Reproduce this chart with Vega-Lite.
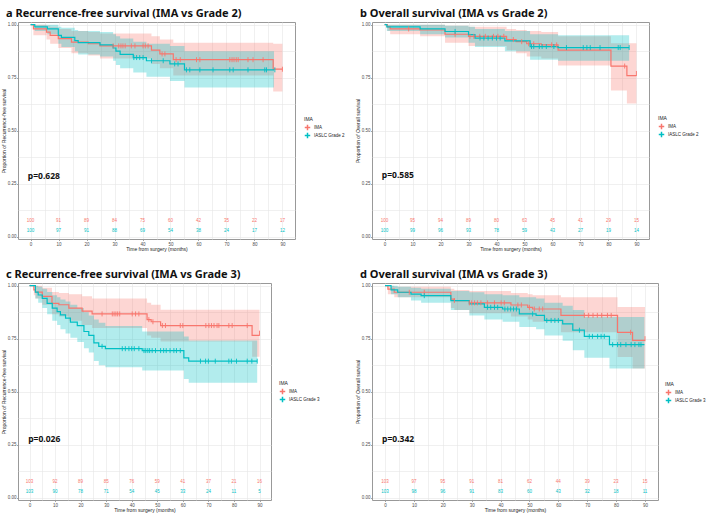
{
"$schema": "https://vega.github.io/schema/vega-lite/v6.json",
"padding": {"left": 0, "top": 7, "right": 0, "bottom": 0},
"background": "white",
"config": {
 "font": "Liberation Sans",
 "view": {"stroke": "#999999", "strokeWidth": 1},
 "axis": {"labelFontSize": 4.5, "labelColor": "#4d4d4d", "titleFontSize": 5, "titleFontWeight": "normal", "titleColor": "#222222", "gridColor": "#E6E6E6", "gridWidth": 0.6, "domain": false, "tickColor": "#666666", "tickSize": 1.5, "tickWidth": 0.6, "labelPadding": 0.5, "titlePadding": 1, "labelFont": "Liberation Sans", "titleFont": "Liberation Sans", "labelOverlap": false, "labelFlush": false},
 "legend": {"titleFontSize": 5, "titleFontWeight": "normal", "titleFont": "Liberation Sans", "labelFont": "Liberation Sans", "labelFontSize": 4.5, "labelColor": "#222222", "titleColor": "#222222", "symbolType": "M-1,0H1M0,-1V1", "symbolSize": 30, "symbolStrokeWidth": 1.5, "symbolFillColor": "transparent", "rowPadding": 0, "titlePadding": 1.5, "labelOffset": 3, "clipHeight": 8},
 "title": {"fontSize": 11, "font": "Noto Sans", "fontWeight": "bold", "anchor": "start", "frame": "group", "dx": -12, "offset": 3, "color": "#111111"}
},
"datasets": {
 "curve": [
  {"p":"a","g":"IMA","t":0,"s":1,"lo":1,"hi":1},
  {"p":"a","g":"IMA","t":1,"s":0.98,"lo":0.95,"hi":1},
  {"p":"a","g":"IMA","t":5.7,"s":0.965,"lo":0.93,"hi":0.995},
  {"p":"a","g":"IMA","t":7,"s":0.95,"lo":0.91,"hi":0.99},
  {"p":"a","g":"IMA","t":9.9,"s":0.934,"lo":0.89,"hi":0.98},
  {"p":"a","g":"IMA","t":14.6,"s":0.918,"lo":0.865,"hi":0.97},
  {"p":"a","g":"IMA","t":20.6,"s":0.91,"lo":0.855,"hi":0.965},
  {"p":"a","g":"IMA","t":24.8,"s":0.9,"lo":0.84,"hi":0.958},
  {"p":"a","g":"IMA","t":43.2,"s":0.88,"lo":0.815,"hi":0.945},
  {"p":"a","g":"IMA","t":46.2,"s":0.862,"lo":0.795,"hi":0.93},
  {"p":"a","g":"IMA","t":51,"s":0.835,"lo":0.76,"hi":0.915},
  {"p":"a","g":"IMA","t":86.7,"s":0.79,"lo":0.685,"hi":0.91},
  {"p":"a","g":"IMA","t":90,"s":0.79,"lo":0.685,"hi":0.91},
  {"p":"a","g":"IASLC Grade 2","t":0,"s":1,"lo":1,"hi":1},
  {"p":"a","g":"IASLC Grade 2","t":1.5,"s":0.99,"lo":0.97,"hi":1},
  {"p":"a","g":"IASLC Grade 2","t":6,"s":0.98,"lo":0.955,"hi":1},
  {"p":"a","g":"IASLC Grade 2","t":9.9,"s":0.95,"lo":0.91,"hi":0.99},
  {"p":"a","g":"IASLC Grade 2","t":11,"s":0.94,"lo":0.895,"hi":0.985},
  {"p":"a","g":"IASLC Grade 2","t":15.8,"s":0.925,"lo":0.875,"hi":0.975},
  {"p":"a","g":"IASLC Grade 2","t":17,"s":0.915,"lo":0.86,"hi":0.97},
  {"p":"a","g":"IASLC Grade 2","t":24.8,"s":0.905,"lo":0.85,"hi":0.965},
  {"p":"a","g":"IASLC Grade 2","t":29.5,"s":0.89,"lo":0.83,"hi":0.955},
  {"p":"a","g":"IASLC Grade 2","t":30.5,"s":0.875,"lo":0.81,"hi":0.945},
  {"p":"a","g":"IASLC Grade 2","t":32,"s":0.86,"lo":0.795,"hi":0.935},
  {"p":"a","g":"IASLC Grade 2","t":36.7,"s":0.845,"lo":0.775,"hi":0.92},
  {"p":"a","g":"IASLC Grade 2","t":41.4,"s":0.83,"lo":0.755,"hi":0.91},
  {"p":"a","g":"IASLC Grade 2","t":49.8,"s":0.815,"lo":0.735,"hi":0.9},
  {"p":"a","g":"IASLC Grade 2","t":55,"s":0.787,"lo":0.704,"hi":0.875},
  {"p":"a","g":"IASLC Grade 2","t":87,"s":0.787,"lo":0.704,"hi":0.875},

  {"p":"b","g":"IMA","t":0,"s":1,"lo":1,"hi":1},
  {"p":"b","g":"IMA","t":1,"s":0.99,"lo":0.97,"hi":1},
  {"p":"b","g":"IMA","t":2,"s":0.98,"lo":0.955,"hi":1},
  {"p":"b","g":"IMA","t":12.7,"s":0.975,"lo":0.945,"hi":1},
  {"p":"b","g":"IMA","t":21.6,"s":0.955,"lo":0.915,"hi":0.995},
  {"p":"b","g":"IMA","t":30,"s":0.945,"lo":0.9,"hi":0.99},
  {"p":"b","g":"IMA","t":43.6,"s":0.93,"lo":0.88,"hi":0.98},
  {"p":"b","g":"IMA","t":47,"s":0.92,"lo":0.865,"hi":0.975},
  {"p":"b","g":"IMA","t":50.8,"s":0.91,"lo":0.85,"hi":0.97},
  {"p":"b","g":"IMA","t":56,"s":0.905,"lo":0.84,"hi":0.965},
  {"p":"b","g":"IMA","t":62,"s":0.88,"lo":0.807,"hi":0.945},
  {"p":"b","g":"IMA","t":80.9,"s":0.805,"lo":0.69,"hi":0.912},
  {"p":"b","g":"IMA","t":86.6,"s":0.76,"lo":0.628,"hi":0.912},
  {"p":"b","g":"IMA","t":90,"s":0.76,"lo":0.628,"hi":0.912},
  {"p":"b","g":"IASLC Grade 2","t":0,"s":1,"lo":1,"hi":1},
  {"p":"b","g":"IASLC Grade 2","t":0.8,"s":0.99,"lo":0.97,"hi":1},
  {"p":"b","g":"IASLC Grade 2","t":12.7,"s":0.98,"lo":0.955,"hi":1},
  {"p":"b","g":"IASLC Grade 2","t":21.6,"s":0.968,"lo":0.94,"hi":0.995},
  {"p":"b","g":"IASLC Grade 2","t":30,"s":0.953,"lo":0.915,"hi":0.99},
  {"p":"b","g":"IASLC Grade 2","t":32.3,"s":0.937,"lo":0.895,"hi":0.98},
  {"p":"b","g":"IASLC Grade 2","t":43,"s":0.924,"lo":0.875,"hi":0.97},
  {"p":"b","g":"IASLC Grade 2","t":52,"s":0.897,"lo":0.835,"hi":0.955},
  {"p":"b","g":"IASLC Grade 2","t":62,"s":0.892,"lo":0.83,"hi":0.95},
  {"p":"b","g":"IASLC Grade 2","t":87.4,"s":0.892,"lo":0.83,"hi":0.95},

  {"p":"c","g":"IMA","t":0,"s":1,"lo":1,"hi":1},
  {"p":"c","g":"IMA","t":1.7,"s":0.98,"lo":0.955,"hi":1},
  {"p":"c","g":"IMA","t":2.3,"s":0.97,"lo":0.94,"hi":1},
  {"p":"c","g":"IMA","t":5,"s":0.95,"lo":0.91,"hi":0.99},
  {"p":"c","g":"IMA","t":8.8,"s":0.917,"lo":0.865,"hi":0.97},
  {"p":"c","g":"IMA","t":11.5,"s":0.91,"lo":0.855,"hi":0.965},
  {"p":"c","g":"IMA","t":15.4,"s":0.894,"lo":0.835,"hi":0.96},
  {"p":"c","g":"IMA","t":20.6,"s":0.88,"lo":0.815,"hi":0.95},
  {"p":"c","g":"IMA","t":24.5,"s":0.867,"lo":0.8,"hi":0.94},
  {"p":"c","g":"IMA","t":46,"s":0.84,"lo":0.765,"hi":0.92},
  {"p":"c","g":"IMA","t":47.6,"s":0.83,"lo":0.755,"hi":0.91},
  {"p":"c","g":"IMA","t":51.3,"s":0.812,"lo":0.737,"hi":0.886},
  {"p":"c","g":"IMA","t":87.1,"s":0.766,"lo":0.665,"hi":0.886},
  {"p":"c","g":"IMA","t":90,"s":0.766,"lo":0.665,"hi":0.886},
  {"p":"c","g":"IASLC Grade 3","t":0,"s":1,"lo":1,"hi":1},
  {"p":"c","g":"IASLC Grade 3","t":2.3,"s":0.97,"lo":0.94,"hi":1},
  {"p":"c","g":"IASLC Grade 3","t":3.4,"s":0.956,"lo":0.92,"hi":0.995},
  {"p":"c","g":"IASLC Grade 3","t":5,"s":0.94,"lo":0.895,"hi":0.985},
  {"p":"c","g":"IASLC Grade 3","t":6.9,"s":0.917,"lo":0.865,"hi":0.97},
  {"p":"c","g":"IASLC Grade 3","t":8.9,"s":0.894,"lo":0.835,"hi":0.955},
  {"p":"c","g":"IASLC Grade 3","t":10.8,"s":0.878,"lo":0.815,"hi":0.945},
  {"p":"c","g":"IASLC Grade 3","t":12.1,"s":0.862,"lo":0.795,"hi":0.935},
  {"p":"c","g":"IASLC Grade 3","t":14.1,"s":0.847,"lo":0.775,"hi":0.925},
  {"p":"c","g":"IASLC Grade 3","t":16,"s":0.828,"lo":0.755,"hi":0.91},
  {"p":"c","g":"IASLC Grade 3","t":18.7,"s":0.812,"lo":0.735,"hi":0.895},
  {"p":"c","g":"IASLC Grade 3","t":21.3,"s":0.784,"lo":0.705,"hi":0.875},
  {"p":"c","g":"IASLC Grade 3","t":23.2,"s":0.766,"lo":0.685,"hi":0.86},
  {"p":"c","g":"IASLC Grade 3","t":25.2,"s":0.73,"lo":0.645,"hi":0.84},
  {"p":"c","g":"IASLC Grade 3","t":27.1,"s":0.714,"lo":0.625,"hi":0.825},
  {"p":"c","g":"IASLC Grade 3","t":29.7,"s":0.703,"lo":0.615,"hi":0.81},
  {"p":"c","g":"IASLC Grade 3","t":44.1,"s":0.694,"lo":0.6,"hi":0.784},
  {"p":"c","g":"IASLC Grade 3","t":60.4,"s":0.66,"lo":0.56,"hi":0.76},
  {"p":"c","g":"IASLC Grade 3","t":62.3,"s":0.644,"lo":0.542,"hi":0.742},
  {"p":"c","g":"IASLC Grade 3","t":89.1,"s":0.644,"lo":0.542,"hi":0.742},

  {"p":"d","g":"IMA","t":0,"s":1,"lo":1,"hi":1},
  {"p":"d","g":"IMA","t":1,"s":0.984,"lo":0.96,"hi":1},
  {"p":"d","g":"IMA","t":3.2,"s":0.969,"lo":0.945,"hi":0.995},
  {"p":"d","g":"IMA","t":22.8,"s":0.937,"lo":0.895,"hi":0.985},
  {"p":"d","g":"IMA","t":24,"s":0.93,"lo":0.885,"hi":0.98},
  {"p":"d","g":"IMA","t":29.2,"s":0.919,"lo":0.87,"hi":0.975},
  {"p":"d","g":"IMA","t":43.6,"s":0.909,"lo":0.855,"hi":0.965},
  {"p":"d","g":"IMA","t":49.4,"s":0.898,"lo":0.84,"hi":0.96},
  {"p":"d","g":"IMA","t":51.1,"s":0.89,"lo":0.83,"hi":0.955},
  {"p":"d","g":"IMA","t":60.9,"s":0.86,"lo":0.78,"hi":0.945},
  {"p":"d","g":"IMA","t":80.5,"s":0.78,"lo":0.664,"hi":0.9},
  {"p":"d","g":"IMA","t":85.7,"s":0.742,"lo":0.61,"hi":0.9},
  {"p":"d","g":"IMA","t":90,"s":0.742,"lo":0.61,"hi":0.9},
  {"p":"d","g":"IASLC Grade 3","t":0,"s":1,"lo":1,"hi":1},
  {"p":"d","g":"IASLC Grade 3","t":2.1,"s":0.98,"lo":0.96,"hi":1},
  {"p":"d","g":"IASLC Grade 3","t":4.4,"s":0.969,"lo":0.945,"hi":0.995},
  {"p":"d","g":"IASLC Grade 3","t":9,"s":0.96,"lo":0.93,"hi":0.99},
  {"p":"d","g":"IASLC Grade 3","t":12.5,"s":0.953,"lo":0.92,"hi":0.985},
  {"p":"d","g":"IASLC Grade 3","t":22.8,"s":0.93,"lo":0.885,"hi":0.975},
  {"p":"d","g":"IASLC Grade 3","t":29.2,"s":0.914,"lo":0.86,"hi":0.969},
  {"p":"d","g":"IASLC Grade 3","t":34.4,"s":0.898,"lo":0.84,"hi":0.96},
  {"p":"d","g":"IASLC Grade 3","t":40.7,"s":0.89,"lo":0.83,"hi":0.955},
  {"p":"d","g":"IASLC Grade 3","t":46.5,"s":0.867,"lo":0.805,"hi":0.945},
  {"p":"d","g":"IASLC Grade 3","t":52.3,"s":0.86,"lo":0.795,"hi":0.94},
  {"p":"d","g":"IASLC Grade 3","t":55.2,"s":0.836,"lo":0.765,"hi":0.92},
  {"p":"d","g":"IASLC Grade 3","t":61.5,"s":0.82,"lo":0.74,"hi":0.905},
  {"p":"d","g":"IASLC Grade 3","t":65,"s":0.79,"lo":0.695,"hi":0.885},
  {"p":"d","g":"IASLC Grade 3","t":69,"s":0.761,"lo":0.66,"hi":0.852},
  {"p":"d","g":"IASLC Grade 3","t":77.7,"s":0.722,"lo":0.61,"hi":0.852},
  {"p":"d","g":"IASLC Grade 3","t":89.8,"s":0.722,"lo":0.61,"hi":0.852}
 ],
 "cens": [
  {"p":"a","g":"IMA","t":29.5,"s":0.9},{"p":"a","g":"IMA","t":31.5,"s":0.9},{"p":"a","g":"IMA","t":32.3,"s":0.9},{"p":"a","g":"IMA","t":33,"s":0.9},{"p":"a","g":"IMA","t":33.8,"s":0.9},{"p":"a","g":"IMA","t":36,"s":0.9},{"p":"a","g":"IMA","t":37.3,"s":0.9},{"p":"a","g":"IMA","t":40.2,"s":0.9},{"p":"a","g":"IMA","t":41,"s":0.9},{"p":"a","g":"IMA","t":42,"s":0.9},{"p":"a","g":"IMA","t":47,"s":0.862},{"p":"a","g":"IMA","t":48,"s":0.862},{"p":"a","g":"IMA","t":52,"s":0.835},{"p":"a","g":"IMA","t":53.5,"s":0.835},{"p":"a","g":"IMA","t":59.3,"s":0.835},{"p":"a","g":"IMA","t":60.5,"s":0.835},{"p":"a","g":"IMA","t":71.2,"s":0.835},{"p":"a","g":"IMA","t":72,"s":0.835},{"p":"a","g":"IMA","t":72.7,"s":0.835},{"p":"a","g":"IMA","t":73.5,"s":0.835},{"p":"a","g":"IMA","t":74.2,"s":0.835},{"p":"a","g":"IMA","t":77.7,"s":0.835},{"p":"a","g":"IMA","t":79.5,"s":0.835},{"p":"a","g":"IMA","t":83.1,"s":0.835},{"p":"a","g":"IMA","t":90,"s":0.79},
  {"p":"a","g":"IASLC Grade 2","t":36.9,"s":0.845},{"p":"a","g":"IASLC Grade 2","t":37.9,"s":0.845},{"p":"a","g":"IASLC Grade 2","t":39,"s":0.845},{"p":"a","g":"IASLC Grade 2","t":40.2,"s":0.845},{"p":"a","g":"IASLC Grade 2","t":43.2,"s":0.83},{"p":"a","g":"IASLC Grade 2","t":47.4,"s":0.83},{"p":"a","g":"IASLC Grade 2","t":51.5,"s":0.815},{"p":"a","g":"IASLC Grade 2","t":52.7,"s":0.815},{"p":"a","g":"IASLC Grade 2","t":55.7,"s":0.787},{"p":"a","g":"IASLC Grade 2","t":56.9,"s":0.787},{"p":"a","g":"IASLC Grade 2","t":60.5,"s":0.787},{"p":"a","g":"IASLC Grade 2","t":65.2,"s":0.787},{"p":"a","g":"IASLC Grade 2","t":71.2,"s":0.787},{"p":"a","g":"IASLC Grade 2","t":72.4,"s":0.787},{"p":"a","g":"IASLC Grade 2","t":77.7,"s":0.787},{"p":"a","g":"IASLC Grade 2","t":83.7,"s":0.787},{"p":"a","g":"IASLC Grade 2","t":84.3,"s":0.787},{"p":"a","g":"IASLC Grade 2","t":87.3,"s":0.787},

  {"p":"b","g":"IMA","t":8.6,"s":0.98},{"p":"b","g":"IMA","t":25.2,"s":0.955},{"p":"b","g":"IMA","t":30.5,"s":0.945},{"p":"b","g":"IMA","t":31.9,"s":0.945},{"p":"b","g":"IMA","t":34,"s":0.945},{"p":"b","g":"IMA","t":36,"s":0.945},{"p":"b","g":"IMA","t":38.9,"s":0.945},{"p":"b","g":"IMA","t":40.5,"s":0.945},{"p":"b","g":"IMA","t":42.6,"s":0.945},{"p":"b","g":"IMA","t":46,"s":0.93},{"p":"b","g":"IMA","t":49,"s":0.92},{"p":"b","g":"IMA","t":51.5,"s":0.91},{"p":"b","g":"IMA","t":53.3,"s":0.91},{"p":"b","g":"IMA","t":59.7,"s":0.905},{"p":"b","g":"IMA","t":61.5,"s":0.905},{"p":"b","g":"IMA","t":85.8,"s":0.805},{"p":"b","g":"IMA","t":90,"s":0.77},
  {"p":"b","g":"IASLC Grade 2","t":25.2,"s":0.968},{"p":"b","g":"IASLC Grade 2","t":34.1,"s":0.937},{"p":"b","g":"IASLC Grade 2","t":35.5,"s":0.937},{"p":"b","g":"IASLC Grade 2","t":37,"s":0.937},{"p":"b","g":"IASLC Grade 2","t":38.5,"s":0.937},{"p":"b","g":"IASLC Grade 2","t":40,"s":0.937},{"p":"b","g":"IASLC Grade 2","t":41.3,"s":0.937},{"p":"b","g":"IASLC Grade 2","t":52.5,"s":0.897},{"p":"b","g":"IASLC Grade 2","t":53.3,"s":0.897},{"p":"b","g":"IASLC Grade 2","t":55.3,"s":0.897},{"p":"b","g":"IASLC Grade 2","t":56.3,"s":0.897},{"p":"b","g":"IASLC Grade 2","t":57.8,"s":0.897},{"p":"b","g":"IASLC Grade 2","t":60.5,"s":0.897},{"p":"b","g":"IASLC Grade 2","t":65,"s":0.892},{"p":"b","g":"IASLC Grade 2","t":71,"s":0.892},{"p":"b","g":"IASLC Grade 2","t":72.3,"s":0.892},{"p":"b","g":"IASLC Grade 2","t":73.5,"s":0.892},{"p":"b","g":"IASLC Grade 2","t":77,"s":0.892},{"p":"b","g":"IASLC Grade 2","t":83.5,"s":0.892},{"p":"b","g":"IASLC Grade 2","t":84.2,"s":0.892},{"p":"b","g":"IASLC Grade 2","t":87.4,"s":0.892},

  {"p":"c","g":"IMA","t":28.4,"s":0.867},{"p":"c","g":"IMA","t":32.4,"s":0.867},{"p":"c","g":"IMA","t":33.1,"s":0.867},{"p":"c","g":"IMA","t":33.8,"s":0.867},{"p":"c","g":"IMA","t":34.5,"s":0.867},{"p":"c","g":"IMA","t":35.3,"s":0.867},{"p":"c","g":"IMA","t":40.2,"s":0.867},{"p":"c","g":"IMA","t":41.5,"s":0.867},{"p":"c","g":"IMA","t":42.8,"s":0.867},{"p":"c","g":"IMA","t":46.7,"s":0.84},{"p":"c","g":"IMA","t":48.3,"s":0.83},{"p":"c","g":"IMA","t":52,"s":0.812},{"p":"c","g":"IMA","t":53.2,"s":0.812},{"p":"c","g":"IMA","t":59,"s":0.812},{"p":"c","g":"IMA","t":60,"s":0.812},{"p":"c","g":"IMA","t":69,"s":0.812},{"p":"c","g":"IMA","t":70.2,"s":0.812},{"p":"c","g":"IMA","t":71.2,"s":0.812},{"p":"c","g":"IMA","t":72.2,"s":0.812},{"p":"c","g":"IMA","t":73.4,"s":0.812},{"p":"c","g":"IMA","t":74.1,"s":0.812},{"p":"c","g":"IMA","t":78,"s":0.812},{"p":"c","g":"IMA","t":79.3,"s":0.812},{"p":"c","g":"IMA","t":85.2,"s":0.812},{"p":"c","g":"IMA","t":90,"s":0.776},
  {"p":"c","g":"IASLC Grade 3","t":28.4,"s":0.714},{"p":"c","g":"IASLC Grade 3","t":36.3,"s":0.703},{"p":"c","g":"IASLC Grade 3","t":37.5,"s":0.703},{"p":"c","g":"IASLC Grade 3","t":38.9,"s":0.703},{"p":"c","g":"IASLC Grade 3","t":40,"s":0.703},{"p":"c","g":"IASLC Grade 3","t":41,"s":0.703},{"p":"c","g":"IASLC Grade 3","t":42.8,"s":0.703},{"p":"c","g":"IASLC Grade 3","t":44.8,"s":0.694},{"p":"c","g":"IASLC Grade 3","t":45.5,"s":0.694},{"p":"c","g":"IASLC Grade 3","t":46.3,"s":0.694},{"p":"c","g":"IASLC Grade 3","t":47,"s":0.694},{"p":"c","g":"IASLC Grade 3","t":48,"s":0.694},{"p":"c","g":"IASLC Grade 3","t":49.3,"s":0.694},{"p":"c","g":"IASLC Grade 3","t":51.3,"s":0.694},{"p":"c","g":"IASLC Grade 3","t":52.5,"s":0.694},{"p":"c","g":"IASLC Grade 3","t":53.5,"s":0.694},{"p":"c","g":"IASLC Grade 3","t":55,"s":0.694},{"p":"c","g":"IASLC Grade 3","t":56.5,"s":0.694},{"p":"c","g":"IASLC Grade 3","t":57.5,"s":0.694},{"p":"c","g":"IASLC Grade 3","t":59,"s":0.694},{"p":"c","g":"IASLC Grade 3","t":66.9,"s":0.644},{"p":"c","g":"IASLC Grade 3","t":68.9,"s":0.644},{"p":"c","g":"IASLC Grade 3","t":70,"s":0.644},{"p":"c","g":"IASLC Grade 3","t":72.7,"s":0.644},{"p":"c","g":"IASLC Grade 3","t":78,"s":0.644},{"p":"c","g":"IASLC Grade 3","t":79,"s":0.644},{"p":"c","g":"IASLC Grade 3","t":81,"s":0.644},{"p":"c","g":"IASLC Grade 3","t":85.2,"s":0.644},{"p":"c","g":"IASLC Grade 3","t":87,"s":0.644},{"p":"c","g":"IASLC Grade 3","t":89.1,"s":0.644},

  {"p":"d","g":"IMA","t":8.4,"s":0.969},{"p":"d","g":"IMA","t":13.6,"s":0.969},{"p":"d","g":"IMA","t":24,"s":0.93},{"p":"d","g":"IMA","t":29.2,"s":0.919},{"p":"d","g":"IMA","t":30,"s":0.919},{"p":"d","g":"IMA","t":31,"s":0.919},{"p":"d","g":"IMA","t":32,"s":0.919},{"p":"d","g":"IMA","t":33.2,"s":0.919},{"p":"d","g":"IMA","t":35.5,"s":0.919},{"p":"d","g":"IMA","t":37.9,"s":0.919},{"p":"d","g":"IMA","t":40.2,"s":0.919},{"p":"d","g":"IMA","t":41.3,"s":0.919},{"p":"d","g":"IMA","t":46,"s":0.909},{"p":"d","g":"IMA","t":47.2,"s":0.909},{"p":"d","g":"IMA","t":50,"s":0.898},{"p":"d","g":"IMA","t":51.7,"s":0.89},{"p":"d","g":"IMA","t":53.4,"s":0.89},{"p":"d","g":"IMA","t":54.6,"s":0.89},{"p":"d","g":"IMA","t":69,"s":0.86},{"p":"d","g":"IMA","t":70.5,"s":0.86},{"p":"d","g":"IMA","t":72,"s":0.86},{"p":"d","g":"IMA","t":73.5,"s":0.86},{"p":"d","g":"IMA","t":75,"s":0.86},{"p":"d","g":"IMA","t":77,"s":0.86},{"p":"d","g":"IMA","t":78.3,"s":0.86},{"p":"d","g":"IMA","t":85,"s":0.78},{"p":"d","g":"IMA","t":90,"s":0.75},
  {"p":"d","g":"IASLC Grade 3","t":13.6,"s":0.953},{"p":"d","g":"IASLC Grade 3","t":35.5,"s":0.898},{"p":"d","g":"IASLC Grade 3","t":36.6,"s":0.898},{"p":"d","g":"IASLC Grade 3","t":37.9,"s":0.898},{"p":"d","g":"IASLC Grade 3","t":39,"s":0.898},{"p":"d","g":"IASLC Grade 3","t":41.5,"s":0.89},{"p":"d","g":"IASLC Grade 3","t":42.5,"s":0.89},{"p":"d","g":"IASLC Grade 3","t":43.5,"s":0.89},{"p":"d","g":"IASLC Grade 3","t":44.5,"s":0.89},{"p":"d","g":"IASLC Grade 3","t":45.5,"s":0.89},{"p":"d","g":"IASLC Grade 3","t":51.1,"s":0.867},{"p":"d","g":"IASLC Grade 3","t":56,"s":0.836},{"p":"d","g":"IASLC Grade 3","t":57.5,"s":0.836},{"p":"d","g":"IASLC Grade 3","t":58.8,"s":0.836},{"p":"d","g":"IASLC Grade 3","t":60,"s":0.836},{"p":"d","g":"IASLC Grade 3","t":67.3,"s":0.79},{"p":"d","g":"IASLC Grade 3","t":70.7,"s":0.761},{"p":"d","g":"IASLC Grade 3","t":71.8,"s":0.761},{"p":"d","g":"IASLC Grade 3","t":73.6,"s":0.761},{"p":"d","g":"IASLC Grade 3","t":74.8,"s":0.761},{"p":"d","g":"IASLC Grade 3","t":75.9,"s":0.761},{"p":"d","g":"IASLC Grade 3","t":78.8,"s":0.722},{"p":"d","g":"IASLC Grade 3","t":80.5,"s":0.722},{"p":"d","g":"IASLC Grade 3","t":81.6,"s":0.722},{"p":"d","g":"IASLC Grade 3","t":83.4,"s":0.722},{"p":"d","g":"IASLC Grade 3","t":85.2,"s":0.722},{"p":"d","g":"IASLC Grade 3","t":86.5,"s":0.722},{"p":"d","g":"IASLC Grade 3","t":87.9,"s":0.722},{"p":"d","g":"IASLC Grade 3","t":88.6,"s":0.722}
 ],
 "risk": [
  {"p":"a","g":"IMA","t":0,"n":100},{"p":"a","g":"IMA","t":10,"n":91},{"p":"a","g":"IMA","t":20,"n":89},{"p":"a","g":"IMA","t":30,"n":84},{"p":"a","g":"IMA","t":40,"n":75},{"p":"a","g":"IMA","t":50,"n":60},{"p":"a","g":"IMA","t":60,"n":42},{"p":"a","g":"IMA","t":70,"n":35},{"p":"a","g":"IMA","t":80,"n":22},{"p":"a","g":"IMA","t":90,"n":17},
  {"p":"a","g":"IASLC Grade 2","t":0,"n":100},{"p":"a","g":"IASLC Grade 2","t":10,"n":97},{"p":"a","g":"IASLC Grade 2","t":20,"n":91},{"p":"a","g":"IASLC Grade 2","t":30,"n":88},{"p":"a","g":"IASLC Grade 2","t":40,"n":69},{"p":"a","g":"IASLC Grade 2","t":50,"n":54},{"p":"a","g":"IASLC Grade 2","t":60,"n":38},{"p":"a","g":"IASLC Grade 2","t":70,"n":24},{"p":"a","g":"IASLC Grade 2","t":80,"n":17},{"p":"a","g":"IASLC Grade 2","t":90,"n":12},
  {"p":"b","g":"IMA","t":0,"n":100},{"p":"b","g":"IMA","t":10,"n":95},{"p":"b","g":"IMA","t":20,"n":94},{"p":"b","g":"IMA","t":30,"n":89},{"p":"b","g":"IMA","t":40,"n":80},{"p":"b","g":"IMA","t":50,"n":63},{"p":"b","g":"IMA","t":60,"n":45},{"p":"b","g":"IMA","t":70,"n":41},{"p":"b","g":"IMA","t":80,"n":29},{"p":"b","g":"IMA","t":90,"n":15},
  {"p":"b","g":"IASLC Grade 2","t":0,"n":100},{"p":"b","g":"IASLC Grade 2","t":10,"n":99},{"p":"b","g":"IASLC Grade 2","t":20,"n":96},{"p":"b","g":"IASLC Grade 2","t":30,"n":93},{"p":"b","g":"IASLC Grade 2","t":40,"n":78},{"p":"b","g":"IASLC Grade 2","t":50,"n":59},{"p":"b","g":"IASLC Grade 2","t":60,"n":43},{"p":"b","g":"IASLC Grade 2","t":70,"n":27},{"p":"b","g":"IASLC Grade 2","t":80,"n":19},{"p":"b","g":"IASLC Grade 2","t":90,"n":14},
  {"p":"c","g":"IMA","t":0,"n":103},{"p":"c","g":"IMA","t":10,"n":92},{"p":"c","g":"IMA","t":20,"n":89},{"p":"c","g":"IMA","t":30,"n":85},{"p":"c","g":"IMA","t":40,"n":76},{"p":"c","g":"IMA","t":50,"n":59},{"p":"c","g":"IMA","t":60,"n":41},{"p":"c","g":"IMA","t":70,"n":37},{"p":"c","g":"IMA","t":80,"n":21},{"p":"c","g":"IMA","t":90,"n":16},
  {"p":"c","g":"IASLC Grade 3","t":0,"n":103},{"p":"c","g":"IASLC Grade 3","t":10,"n":90},{"p":"c","g":"IASLC Grade 3","t":20,"n":78},{"p":"c","g":"IASLC Grade 3","t":30,"n":71},{"p":"c","g":"IASLC Grade 3","t":40,"n":54},{"p":"c","g":"IASLC Grade 3","t":50,"n":45},{"p":"c","g":"IASLC Grade 3","t":60,"n":33},{"p":"c","g":"IASLC Grade 3","t":70,"n":24},{"p":"c","g":"IASLC Grade 3","t":80,"n":11},{"p":"c","g":"IASLC Grade 3","t":90,"n":5},
  {"p":"d","g":"IMA","t":0,"n":103},{"p":"d","g":"IMA","t":10,"n":97},{"p":"d","g":"IMA","t":20,"n":95},{"p":"d","g":"IMA","t":30,"n":91},{"p":"d","g":"IMA","t":40,"n":81},{"p":"d","g":"IMA","t":50,"n":62},{"p":"d","g":"IMA","t":60,"n":44},{"p":"d","g":"IMA","t":70,"n":39},{"p":"d","g":"IMA","t":80,"n":23},{"p":"d","g":"IMA","t":90,"n":15},
  {"p":"d","g":"IASLC Grade 3","t":0,"n":103},{"p":"d","g":"IASLC Grade 3","t":10,"n":98},{"p":"d","g":"IASLC Grade 3","t":20,"n":96},{"p":"d","g":"IASLC Grade 3","t":30,"n":91},{"p":"d","g":"IASLC Grade 3","t":40,"n":83},{"p":"d","g":"IASLC Grade 3","t":50,"n":60},{"p":"d","g":"IASLC Grade 3","t":60,"n":43},{"p":"d","g":"IASLC Grade 3","t":70,"n":32},{"p":"d","g":"IASLC Grade 3","t":80,"n":18},{"p":"d","g":"IASLC Grade 3","t":90,"n":11}
 ],
 "pv": [
  {"p":"a","label":"p=0.628"},{"p":"b","label":"p=0.585"},{"p":"c","label":"p=0.026"},{"p":"d","label":"p=0.342"}
 ]
},
"columns": 2,
"bounds": "flush",
"align": "each",
"spacing": {"row": 44, "column": 77},
"resolve": {"scale": {"x": "independent", "y": "independent", "fill": "independent", "stroke": "independent"}, "axis": {"x": "independent", "y": "independent"}, "legend": {"stroke": "independent", "fill": "independent"}},
"concat": [
 {
  "width": 277, "height": 217,
  "title": "a   Recurrence-free survival (IMA vs Grade 2)",
  "layer": [
   {"data": {"name": "curve"}, "transform": [{"filter": "datum.p == 'a'"}],
    "mark": {"type": "area", "interpolate": "step-after", "opacity": 0.3},
    "encoding": {
     "x": {"field": "t", "type": "quantitative", "scale": {"domain": [-4.5, 94.5], "nice": false, "zero": false}, "axis": {"title": "Time from surgery (months)", "values": [0,5,10,15,20,25,30,35,40,45,50,55,60,65,70,75,80,85,90], "labelExpr": "datum.value % 10 == 0 ? datum.label : ''", "tickOpacity": {"condition": {"test": "datum.value % 10 == 0", "value": 1}, "value": 0}}},
     "y": {"field": "lo", "type": "quantitative", "scale": {"domain": [-0.0108, 1.0127], "nice": false, "zero": false}, "axis": {"title": "Proportion of Recurrence-free survival", "values": [0,0.125,0.25,0.375,0.5,0.625,0.75,0.875,1], "labelExpr": "(datum.value * 4) % 1 == 0 ? format(datum.value, '.2f') : ''", "tickOpacity": {"condition": {"test": "(datum.value * 4) % 1 == 0", "value": 1}, "value": 0}}},
     "y2": {"field": "hi"},
     "fill": {"field": "g", "type": "nominal", "scale": {"domain": ["IASLC Grade 2", "IMA"], "range": ["#00BFC4", "#F8766D"]}, "legend": null}
    }},
   {"data": {"name": "curve"}, "transform": [{"filter": "datum.p == 'a'"}],
    "mark": {"type": "line", "interpolate": "step-after", "strokeWidth": 1.2},
    "encoding": {
     "x": {"field": "t", "type": "quantitative", "scale": {"domain": [-4.5, 94.5], "nice": false, "zero": false}, "axis": {"title": "Time from surgery (months)", "values": [0,5,10,15,20,25,30,35,40,45,50,55,60,65,70,75,80,85,90], "labelExpr": "datum.value % 10 == 0 ? datum.label : ''", "tickOpacity": {"condition": {"test": "datum.value % 10 == 0", "value": 1}, "value": 0}}},
     "y": {"field": "s", "type": "quantitative", "scale": {"domain": [-0.0108, 1.0127], "nice": false, "zero": false}, "axis": {"title": "Proportion of Recurrence-free survival", "values": [0,0.125,0.25,0.375,0.5,0.625,0.75,0.875,1], "labelExpr": "(datum.value * 4) % 1 == 0 ? format(datum.value, '.2f') : ''", "tickOpacity": {"condition": {"test": "(datum.value * 4) % 1 == 0", "value": 1}, "value": 0}}},
     "stroke": {"field": "g", "type": "nominal", "scale": {"domain": ["IMA", "IASLC Grade 2"], "range": ["#F8766D", "#00BFC4"]}, "legend": {"title": "IMA", "orient": "none", "legendX": 286, "legendY": 95, "symbolType": "M-1,0H1M0,-1V1", "symbolSize": 30, "rowPadding": 0, "clipHeight": 8}}
    }},
   {"data": {"name": "cens"}, "transform": [{"filter": "datum.p == 'a'"}],
    "mark": {"type": "point", "shape": "M0,-1V1", "size": 25, "strokeWidth": 0.9, "filled": false, "opacity": 1},
    "encoding": {
     "x": {"field": "t", "type": "quantitative", "scale": {"domain": [-4.5, 94.5], "nice": false, "zero": false}, "axis": {"title": "Time from surgery (months)", "values": [0,5,10,15,20,25,30,35,40,45,50,55,60,65,70,75,80,85,90], "labelExpr": "datum.value % 10 == 0 ? datum.label : ''", "tickOpacity": {"condition": {"test": "datum.value % 10 == 0", "value": 1}, "value": 0}}},
     "y": {"field": "s", "type": "quantitative", "scale": {"domain": [-0.0108, 1.0127], "nice": false, "zero": false}, "axis": {"title": "Proportion of Recurrence-free survival", "values": [0,0.125,0.25,0.375,0.5,0.625,0.75,0.875,1], "labelExpr": "(datum.value * 4) % 1 == 0 ? format(datum.value, '.2f') : ''", "tickOpacity": {"condition": {"test": "(datum.value * 4) % 1 == 0", "value": 1}, "value": 0}}},
     "stroke": {"field": "g", "type": "nominal", "scale": {"domain": ["IMA", "IASLC Grade 2"], "range": ["#F8766D", "#00BFC4"]}, "legend": {"title": "IMA", "orient": "none", "legendX": 286, "legendY": 95, "symbolType": "M-1,0H1M0,-1V1", "symbolSize": 30, "rowPadding": 0, "clipHeight": 8}}
    }},
   {"data": {"name": "risk"}, "transform": [{"filter": "datum.p == 'a' && datum.g == 'IMA'"}],
    "mark": {"type": "text", "fontSize": 4.5, "baseline": "middle"},
    "encoding": {
     "x": {"field": "t", "type": "quantitative", "scale": {"domain": [-4.5, 94.5], "nice": false, "zero": false}, "axis": {"title": "Time from surgery (months)", "values": [0,5,10,15,20,25,30,35,40,45,50,55,60,65,70,75,80,85,90], "labelExpr": "datum.value % 10 == 0 ? datum.label : ''", "tickOpacity": {"condition": {"test": "datum.value % 10 == 0", "value": 1}, "value": 0}}},
     "y": {"datum": 0.075, "type": "quantitative", "scale": {"domain": [-0.0108, 1.0127], "nice": false, "zero": false}, "axis": {"title": "Proportion of Recurrence-free survival", "values": [0,0.125,0.25,0.375,0.5,0.625,0.75,0.875,1], "labelExpr": "(datum.value * 4) % 1 == 0 ? format(datum.value, '.2f') : ''", "tickOpacity": {"condition": {"test": "(datum.value * 4) % 1 == 0", "value": 1}, "value": 0}}},
     "text": {"field": "n", "type": "quantitative"},
     "fill": {"field": "g", "type": "nominal", "scale": {"domain": ["IASLC Grade 2", "IMA"], "range": ["#00BFC4", "#F8766D"]}, "legend": null}
    }},
   {"data": {"name": "risk"}, "transform": [{"filter": "datum.p == 'a' && datum.g != 'IMA'"}],
    "mark": {"type": "text", "fontSize": 4.5, "baseline": "middle"},
    "encoding": {
     "x": {"field": "t", "type": "quantitative", "scale": {"domain": [-4.5, 94.5], "nice": false, "zero": false}, "axis": {"title": "Time from surgery (months)", "values": [0,5,10,15,20,25,30,35,40,45,50,55,60,65,70,75,80,85,90], "labelExpr": "datum.value % 10 == 0 ? datum.label : ''", "tickOpacity": {"condition": {"test": "datum.value % 10 == 0", "value": 1}, "value": 0}}},
     "y": {"datum": 0.025, "type": "quantitative", "scale": {"domain": [-0.0108, 1.0127], "nice": false, "zero": false}, "axis": {"title": "Proportion of Recurrence-free survival", "values": [0,0.125,0.25,0.375,0.5,0.625,0.75,0.875,1], "labelExpr": "(datum.value * 4) % 1 == 0 ? format(datum.value, '.2f') : ''", "tickOpacity": {"condition": {"test": "(datum.value * 4) % 1 == 0", "value": 1}, "value": 0}}},
     "text": {"field": "n", "type": "quantitative"},
     "fill": {"field": "g", "type": "nominal", "scale": {"domain": ["IASLC Grade 2", "IMA"], "range": ["#00BFC4", "#F8766D"]}, "legend": null}
    }},
   {"data": {"name": "pv"}, "transform": [{"filter": "datum.p == 'a'"}],
    "mark": {"type": "text", "fontSize": 8.5, "fontWeight": "bold", "font": "Noto Sans", "align": "left", "baseline": "middle", "color": "#111111"},
    "encoding": {
     "x": {"datum": -1, "type": "quantitative", "scale": {"domain": [-4.5, 94.5], "nice": false, "zero": false}, "axis": {"title": "Time from surgery (months)", "values": [0,5,10,15,20,25,30,35,40,45,50,55,60,65,70,75,80,85,90], "labelExpr": "datum.value % 10 == 0 ? datum.label : ''", "tickOpacity": {"condition": {"test": "datum.value % 10 == 0", "value": 1}, "value": 0}}},
     "y": {"datum": 0.286, "type": "quantitative", "scale": {"domain": [-0.0108, 1.0127], "nice": false, "zero": false}, "axis": {"title": "Proportion of Recurrence-free survival", "values": [0,0.125,0.25,0.375,0.5,0.625,0.75,0.875,1], "labelExpr": "(datum.value * 4) % 1 == 0 ? format(datum.value, '.2f') : ''", "tickOpacity": {"condition": {"test": "(datum.value * 4) % 1 == 0", "value": 1}, "value": 0}}},
     "text": {"field": "label"}}}
  ]
 },
 {
  "width": 277, "height": 217,
  "title": "b   Overall survival (IMA vs Grade 2)",
  "layer": [
   {"data": {"name": "curve"}, "transform": [{"filter": "datum.p == 'b'"}],
    "mark": {"type": "area", "interpolate": "step-after", "opacity": 0.3},
    "encoding": {
     "x": {"field": "t", "type": "quantitative", "scale": {"domain": [-4.5, 94.5], "nice": false, "zero": false}, "axis": {"title": "Time from surgery (months)", "values": [0,5,10,15,20,25,30,35,40,45,50,55,60,65,70,75,80,85,90], "labelExpr": "datum.value % 10 == 0 ? datum.label : ''", "tickOpacity": {"condition": {"test": "datum.value % 10 == 0", "value": 1}, "value": 0}}},
     "y": {"field": "lo", "type": "quantitative", "scale": {"domain": [-0.0108, 1.0127], "nice": false, "zero": false}, "axis": {"title": "Proportion of Overall survival", "values": [0,0.125,0.25,0.375,0.5,0.625,0.75,0.875,1], "labelExpr": "(datum.value * 4) % 1 == 0 ? format(datum.value, '.2f') : ''", "tickOpacity": {"condition": {"test": "(datum.value * 4) % 1 == 0", "value": 1}, "value": 0}}},
     "y2": {"field": "hi"},
     "fill": {"field": "g", "type": "nominal", "scale": {"domain": ["IASLC Grade 2", "IMA"], "range": ["#00BFC4", "#F8766D"]}, "legend": null}
    }},
   {"data": {"name": "curve"}, "transform": [{"filter": "datum.p == 'b'"}],
    "mark": {"type": "line", "interpolate": "step-after", "strokeWidth": 1.2},
    "encoding": {
     "x": {"field": "t", "type": "quantitative", "scale": {"domain": [-4.5, 94.5], "nice": false, "zero": false}, "axis": {"title": "Time from surgery (months)", "values": [0,5,10,15,20,25,30,35,40,45,50,55,60,65,70,75,80,85,90], "labelExpr": "datum.value % 10 == 0 ? datum.label : ''", "tickOpacity": {"condition": {"test": "datum.value % 10 == 0", "value": 1}, "value": 0}}},
     "y": {"field": "s", "type": "quantitative", "scale": {"domain": [-0.0108, 1.0127], "nice": false, "zero": false}, "axis": {"title": "Proportion of Overall survival", "values": [0,0.125,0.25,0.375,0.5,0.625,0.75,0.875,1], "labelExpr": "(datum.value * 4) % 1 == 0 ? format(datum.value, '.2f') : ''", "tickOpacity": {"condition": {"test": "(datum.value * 4) % 1 == 0", "value": 1}, "value": 0}}},
     "stroke": {"field": "g", "type": "nominal", "scale": {"domain": ["IMA", "IASLC Grade 2"], "range": ["#F8766D", "#00BFC4"]}, "legend": {"title": "IMA", "orient": "none", "legendX": 286, "legendY": 94, "symbolType": "M-1,0H1M0,-1V1", "symbolSize": 30, "rowPadding": 0, "clipHeight": 8}}
    }},
   {"data": {"name": "cens"}, "transform": [{"filter": "datum.p == 'b'"}],
    "mark": {"type": "point", "shape": "M0,-1V1", "size": 25, "strokeWidth": 0.9, "filled": false, "opacity": 1},
    "encoding": {
     "x": {"field": "t", "type": "quantitative", "scale": {"domain": [-4.5, 94.5], "nice": false, "zero": false}, "axis": {"title": "Time from surgery (months)", "values": [0,5,10,15,20,25,30,35,40,45,50,55,60,65,70,75,80,85,90], "labelExpr": "datum.value % 10 == 0 ? datum.label : ''", "tickOpacity": {"condition": {"test": "datum.value % 10 == 0", "value": 1}, "value": 0}}},
     "y": {"field": "s", "type": "quantitative", "scale": {"domain": [-0.0108, 1.0127], "nice": false, "zero": false}, "axis": {"title": "Proportion of Overall survival", "values": [0,0.125,0.25,0.375,0.5,0.625,0.75,0.875,1], "labelExpr": "(datum.value * 4) % 1 == 0 ? format(datum.value, '.2f') : ''", "tickOpacity": {"condition": {"test": "(datum.value * 4) % 1 == 0", "value": 1}, "value": 0}}},
     "stroke": {"field": "g", "type": "nominal", "scale": {"domain": ["IMA", "IASLC Grade 2"], "range": ["#F8766D", "#00BFC4"]}, "legend": {"title": "IMA", "orient": "none", "legendX": 286, "legendY": 94, "symbolType": "M-1,0H1M0,-1V1", "symbolSize": 30, "rowPadding": 0, "clipHeight": 8}}
    }},
   {"data": {"name": "risk"}, "transform": [{"filter": "datum.p == 'b' && datum.g == 'IMA'"}],
    "mark": {"type": "text", "fontSize": 4.5, "baseline": "middle"},
    "encoding": {
     "x": {"field": "t", "type": "quantitative", "scale": {"domain": [-4.5, 94.5], "nice": false, "zero": false}, "axis": {"title": "Time from surgery (months)", "values": [0,5,10,15,20,25,30,35,40,45,50,55,60,65,70,75,80,85,90], "labelExpr": "datum.value % 10 == 0 ? datum.label : ''", "tickOpacity": {"condition": {"test": "datum.value % 10 == 0", "value": 1}, "value": 0}}},
     "y": {"datum": 0.075, "type": "quantitative", "scale": {"domain": [-0.0108, 1.0127], "nice": false, "zero": false}, "axis": {"title": "Proportion of Overall survival", "values": [0,0.125,0.25,0.375,0.5,0.625,0.75,0.875,1], "labelExpr": "(datum.value * 4) % 1 == 0 ? format(datum.value, '.2f') : ''", "tickOpacity": {"condition": {"test": "(datum.value * 4) % 1 == 0", "value": 1}, "value": 0}}},
     "text": {"field": "n", "type": "quantitative"},
     "fill": {"field": "g", "type": "nominal", "scale": {"domain": ["IASLC Grade 2", "IMA"], "range": ["#00BFC4", "#F8766D"]}, "legend": null}
    }},
   {"data": {"name": "risk"}, "transform": [{"filter": "datum.p == 'b' && datum.g != 'IMA'"}],
    "mark": {"type": "text", "fontSize": 4.5, "baseline": "middle"},
    "encoding": {
     "x": {"field": "t", "type": "quantitative", "scale": {"domain": [-4.5, 94.5], "nice": false, "zero": false}, "axis": {"title": "Time from surgery (months)", "values": [0,5,10,15,20,25,30,35,40,45,50,55,60,65,70,75,80,85,90], "labelExpr": "datum.value % 10 == 0 ? datum.label : ''", "tickOpacity": {"condition": {"test": "datum.value % 10 == 0", "value": 1}, "value": 0}}},
     "y": {"datum": 0.025, "type": "quantitative", "scale": {"domain": [-0.0108, 1.0127], "nice": false, "zero": false}, "axis": {"title": "Proportion of Overall survival", "values": [0,0.125,0.25,0.375,0.5,0.625,0.75,0.875,1], "labelExpr": "(datum.value * 4) % 1 == 0 ? format(datum.value, '.2f') : ''", "tickOpacity": {"condition": {"test": "(datum.value * 4) % 1 == 0", "value": 1}, "value": 0}}},
     "text": {"field": "n", "type": "quantitative"},
     "fill": {"field": "g", "type": "nominal", "scale": {"domain": ["IASLC Grade 2", "IMA"], "range": ["#00BFC4", "#F8766D"]}, "legend": null}
    }},
   {"data": {"name": "pv"}, "transform": [{"filter": "datum.p == 'b'"}],
    "mark": {"type": "text", "fontSize": 8.5, "fontWeight": "bold", "font": "Noto Sans", "align": "left", "baseline": "middle", "color": "#111111"},
    "encoding": {
     "x": {"datum": -1, "type": "quantitative", "scale": {"domain": [-4.5, 94.5], "nice": false, "zero": false}, "axis": {"title": "Time from surgery (months)", "values": [0,5,10,15,20,25,30,35,40,45,50,55,60,65,70,75,80,85,90], "labelExpr": "datum.value % 10 == 0 ? datum.label : ''", "tickOpacity": {"condition": {"test": "datum.value % 10 == 0", "value": 1}, "value": 0}}},
     "y": {"datum": 0.29, "type": "quantitative", "scale": {"domain": [-0.0108, 1.0127], "nice": false, "zero": false}, "axis": {"title": "Proportion of Overall survival", "values": [0,0.125,0.25,0.375,0.5,0.625,0.75,0.875,1], "labelExpr": "(datum.value * 4) % 1 == 0 ? format(datum.value, '.2f') : ''", "tickOpacity": {"condition": {"test": "(datum.value * 4) % 1 == 0", "value": 1}, "value": 0}}},
     "text": {"field": "label"}}}
  ]
 },
 {
  "width": 253, "height": 217,
  "title": "c   Recurrence-free survival (IMA vs Grade 3)",
  "layer": [
   {"data": {"name": "curve"}, "transform": [{"filter": "datum.p == 'c'"}],
    "mark": {"type": "area", "interpolate": "step-after", "opacity": 0.3},
    "encoding": {
     "x": {"field": "t", "type": "quantitative", "scale": {"domain": [-4.5, 94.5], "nice": false, "zero": false}, "axis": {"title": "Time from surgery (months)", "values": [0,5,10,15,20,25,30,35,40,45,50,55,60,65,70,75,80,85,90], "labelExpr": "datum.value % 10 == 0 ? datum.label : ''", "tickOpacity": {"condition": {"test": "datum.value % 10 == 0", "value": 1}, "value": 0}}},
     "y": {"field": "lo", "type": "quantitative", "scale": {"domain": [-0.0108, 1.0127], "nice": false, "zero": false}, "axis": {"title": "Proportion of Recurrence-free survival", "values": [0,0.125,0.25,0.375,0.5,0.625,0.75,0.875,1], "labelExpr": "(datum.value * 4) % 1 == 0 ? format(datum.value, '.2f') : ''", "tickOpacity": {"condition": {"test": "(datum.value * 4) % 1 == 0", "value": 1}, "value": 0}}},
     "y2": {"field": "hi"},
     "fill": {"field": "g", "type": "nominal", "scale": {"domain": ["IASLC Grade 3", "IMA"], "range": ["#00BFC4", "#F8766D"]}, "legend": null}
    }},
   {"data": {"name": "curve"}, "transform": [{"filter": "datum.p == 'c'"}],
    "mark": {"type": "line", "interpolate": "step-after", "strokeWidth": 1.2},
    "encoding": {
     "x": {"field": "t", "type": "quantitative", "scale": {"domain": [-4.5, 94.5], "nice": false, "zero": false}, "axis": {"title": "Time from surgery (months)", "values": [0,5,10,15,20,25,30,35,40,45,50,55,60,65,70,75,80,85,90], "labelExpr": "datum.value % 10 == 0 ? datum.label : ''", "tickOpacity": {"condition": {"test": "datum.value % 10 == 0", "value": 1}, "value": 0}}},
     "y": {"field": "s", "type": "quantitative", "scale": {"domain": [-0.0108, 1.0127], "nice": false, "zero": false}, "axis": {"title": "Proportion of Recurrence-free survival", "values": [0,0.125,0.25,0.375,0.5,0.625,0.75,0.875,1], "labelExpr": "(datum.value * 4) % 1 == 0 ? format(datum.value, '.2f') : ''", "tickOpacity": {"condition": {"test": "(datum.value * 4) % 1 == 0", "value": 1}, "value": 0}}},
     "stroke": {"field": "g", "type": "nominal", "scale": {"domain": ["IMA", "IASLC Grade 3"], "range": ["#F8766D", "#00BFC4"]}, "legend": {"title": "IMA", "orient": "none", "legendX": 261, "legendY": 98, "symbolType": "M-1,0H1M0,-1V1", "symbolSize": 30, "rowPadding": 0, "clipHeight": 8}}
    }},
   {"data": {"name": "cens"}, "transform": [{"filter": "datum.p == 'c'"}],
    "mark": {"type": "point", "shape": "M0,-1V1", "size": 25, "strokeWidth": 0.9, "filled": false, "opacity": 1},
    "encoding": {
     "x": {"field": "t", "type": "quantitative", "scale": {"domain": [-4.5, 94.5], "nice": false, "zero": false}, "axis": {"title": "Time from surgery (months)", "values": [0,5,10,15,20,25,30,35,40,45,50,55,60,65,70,75,80,85,90], "labelExpr": "datum.value % 10 == 0 ? datum.label : ''", "tickOpacity": {"condition": {"test": "datum.value % 10 == 0", "value": 1}, "value": 0}}},
     "y": {"field": "s", "type": "quantitative", "scale": {"domain": [-0.0108, 1.0127], "nice": false, "zero": false}, "axis": {"title": "Proportion of Recurrence-free survival", "values": [0,0.125,0.25,0.375,0.5,0.625,0.75,0.875,1], "labelExpr": "(datum.value * 4) % 1 == 0 ? format(datum.value, '.2f') : ''", "tickOpacity": {"condition": {"test": "(datum.value * 4) % 1 == 0", "value": 1}, "value": 0}}},
     "stroke": {"field": "g", "type": "nominal", "scale": {"domain": ["IMA", "IASLC Grade 3"], "range": ["#F8766D", "#00BFC4"]}, "legend": {"title": "IMA", "orient": "none", "legendX": 261, "legendY": 98, "symbolType": "M-1,0H1M0,-1V1", "symbolSize": 30, "rowPadding": 0, "clipHeight": 8}}
    }},
   {"data": {"name": "risk"}, "transform": [{"filter": "datum.p == 'c' && datum.g == 'IMA'"}],
    "mark": {"type": "text", "fontSize": 4.5, "baseline": "middle"},
    "encoding": {
     "x": {"field": "t", "type": "quantitative", "scale": {"domain": [-4.5, 94.5], "nice": false, "zero": false}, "axis": {"title": "Time from surgery (months)", "values": [0,5,10,15,20,25,30,35,40,45,50,55,60,65,70,75,80,85,90], "labelExpr": "datum.value % 10 == 0 ? datum.label : ''", "tickOpacity": {"condition": {"test": "datum.value % 10 == 0", "value": 1}, "value": 0}}},
     "y": {"datum": 0.075, "type": "quantitative", "scale": {"domain": [-0.0108, 1.0127], "nice": false, "zero": false}, "axis": {"title": "Proportion of Recurrence-free survival", "values": [0,0.125,0.25,0.375,0.5,0.625,0.75,0.875,1], "labelExpr": "(datum.value * 4) % 1 == 0 ? format(datum.value, '.2f') : ''", "tickOpacity": {"condition": {"test": "(datum.value * 4) % 1 == 0", "value": 1}, "value": 0}}},
     "text": {"field": "n", "type": "quantitative"},
     "fill": {"field": "g", "type": "nominal", "scale": {"domain": ["IASLC Grade 3", "IMA"], "range": ["#00BFC4", "#F8766D"]}, "legend": null}
    }},
   {"data": {"name": "risk"}, "transform": [{"filter": "datum.p == 'c' && datum.g != 'IMA'"}],
    "mark": {"type": "text", "fontSize": 4.5, "baseline": "middle"},
    "encoding": {
     "x": {"field": "t", "type": "quantitative", "scale": {"domain": [-4.5, 94.5], "nice": false, "zero": false}, "axis": {"title": "Time from surgery (months)", "values": [0,5,10,15,20,25,30,35,40,45,50,55,60,65,70,75,80,85,90], "labelExpr": "datum.value % 10 == 0 ? datum.label : ''", "tickOpacity": {"condition": {"test": "datum.value % 10 == 0", "value": 1}, "value": 0}}},
     "y": {"datum": 0.025, "type": "quantitative", "scale": {"domain": [-0.0108, 1.0127], "nice": false, "zero": false}, "axis": {"title": "Proportion of Recurrence-free survival", "values": [0,0.125,0.25,0.375,0.5,0.625,0.75,0.875,1], "labelExpr": "(datum.value * 4) % 1 == 0 ? format(datum.value, '.2f') : ''", "tickOpacity": {"condition": {"test": "(datum.value * 4) % 1 == 0", "value": 1}, "value": 0}}},
     "text": {"field": "n", "type": "quantitative"},
     "fill": {"field": "g", "type": "nominal", "scale": {"domain": ["IASLC Grade 3", "IMA"], "range": ["#00BFC4", "#F8766D"]}, "legend": null}
    }},
   {"data": {"name": "pv"}, "transform": [{"filter": "datum.p == 'c'"}],
    "mark": {"type": "text", "fontSize": 8.5, "fontWeight": "bold", "font": "Noto Sans", "align": "left", "baseline": "middle", "color": "#111111"},
    "encoding": {
     "x": {"datum": -0.5, "type": "quantitative", "scale": {"domain": [-4.5, 94.5], "nice": false, "zero": false}, "axis": {"title": "Time from surgery (months)", "values": [0,5,10,15,20,25,30,35,40,45,50,55,60,65,70,75,80,85,90], "labelExpr": "datum.value % 10 == 0 ? datum.label : ''", "tickOpacity": {"condition": {"test": "datum.value % 10 == 0", "value": 1}, "value": 0}}},
     "y": {"datum": 0.277, "type": "quantitative", "scale": {"domain": [-0.0108, 1.0127], "nice": false, "zero": false}, "axis": {"title": "Proportion of Recurrence-free survival", "values": [0,0.125,0.25,0.375,0.5,0.625,0.75,0.875,1], "labelExpr": "(datum.value * 4) % 1 == 0 ? format(datum.value, '.2f') : ''", "tickOpacity": {"condition": {"test": "(datum.value * 4) % 1 == 0", "value": 1}, "value": 0}}},
     "text": {"field": "label"}}}
  ]
 },
 {
  "width": 286, "height": 217,
  "title": "d   Overall survival (IMA vs Grade 3)",
  "layer": [
   {"data": {"name": "curve"}, "transform": [{"filter": "datum.p == 'd'"}],
    "mark": {"type": "area", "interpolate": "step-after", "opacity": 0.3},
    "encoding": {
     "x": {"field": "t", "type": "quantitative", "scale": {"domain": [-4.5, 94.5], "nice": false, "zero": false}, "axis": {"title": "Time from surgery (months)", "values": [0,5,10,15,20,25,30,35,40,45,50,55,60,65,70,75,80,85,90], "labelExpr": "datum.value % 10 == 0 ? datum.label : ''", "tickOpacity": {"condition": {"test": "datum.value % 10 == 0", "value": 1}, "value": 0}}},
     "y": {"field": "lo", "type": "quantitative", "scale": {"domain": [-0.0108, 1.0127], "nice": false, "zero": false}, "axis": {"title": "Proportion of Overall survival", "values": [0,0.125,0.25,0.375,0.5,0.625,0.75,0.875,1], "labelExpr": "(datum.value * 4) % 1 == 0 ? format(datum.value, '.2f') : ''", "tickOpacity": {"condition": {"test": "(datum.value * 4) % 1 == 0", "value": 1}, "value": 0}}},
     "y2": {"field": "hi"},
     "fill": {"field": "g", "type": "nominal", "scale": {"domain": ["IASLC Grade 3", "IMA"], "range": ["#00BFC4", "#F8766D"]}, "legend": null}
    }},
   {"data": {"name": "curve"}, "transform": [{"filter": "datum.p == 'd'"}],
    "mark": {"type": "line", "interpolate": "step-after", "strokeWidth": 1.2},
    "encoding": {
     "x": {"field": "t", "type": "quantitative", "scale": {"domain": [-4.5, 94.5], "nice": false, "zero": false}, "axis": {"title": "Time from surgery (months)", "values": [0,5,10,15,20,25,30,35,40,45,50,55,60,65,70,75,80,85,90], "labelExpr": "datum.value % 10 == 0 ? datum.label : ''", "tickOpacity": {"condition": {"test": "datum.value % 10 == 0", "value": 1}, "value": 0}}},
     "y": {"field": "s", "type": "quantitative", "scale": {"domain": [-0.0108, 1.0127], "nice": false, "zero": false}, "axis": {"title": "Proportion of Overall survival", "values": [0,0.125,0.25,0.375,0.5,0.625,0.75,0.875,1], "labelExpr": "(datum.value * 4) % 1 == 0 ? format(datum.value, '.2f') : ''", "tickOpacity": {"condition": {"test": "(datum.value * 4) % 1 == 0", "value": 1}, "value": 0}}},
     "stroke": {"field": "g", "type": "nominal", "scale": {"domain": ["IMA", "IASLC Grade 3"], "range": ["#F8766D", "#00BFC4"]}, "legend": {"title": "IMA", "orient": "none", "legendX": 293, "legendY": 99, "symbolType": "M-1,0H1M0,-1V1", "symbolSize": 30, "rowPadding": 0, "clipHeight": 8}}
    }},
   {"data": {"name": "cens"}, "transform": [{"filter": "datum.p == 'd'"}],
    "mark": {"type": "point", "shape": "M0,-1V1", "size": 25, "strokeWidth": 0.9, "filled": false, "opacity": 1},
    "encoding": {
     "x": {"field": "t", "type": "quantitative", "scale": {"domain": [-4.5, 94.5], "nice": false, "zero": false}, "axis": {"title": "Time from surgery (months)", "values": [0,5,10,15,20,25,30,35,40,45,50,55,60,65,70,75,80,85,90], "labelExpr": "datum.value % 10 == 0 ? datum.label : ''", "tickOpacity": {"condition": {"test": "datum.value % 10 == 0", "value": 1}, "value": 0}}},
     "y": {"field": "s", "type": "quantitative", "scale": {"domain": [-0.0108, 1.0127], "nice": false, "zero": false}, "axis": {"title": "Proportion of Overall survival", "values": [0,0.125,0.25,0.375,0.5,0.625,0.75,0.875,1], "labelExpr": "(datum.value * 4) % 1 == 0 ? format(datum.value, '.2f') : ''", "tickOpacity": {"condition": {"test": "(datum.value * 4) % 1 == 0", "value": 1}, "value": 0}}},
     "stroke": {"field": "g", "type": "nominal", "scale": {"domain": ["IMA", "IASLC Grade 3"], "range": ["#F8766D", "#00BFC4"]}, "legend": {"title": "IMA", "orient": "none", "legendX": 293, "legendY": 99, "symbolType": "M-1,0H1M0,-1V1", "symbolSize": 30, "rowPadding": 0, "clipHeight": 8}}
    }},
   {"data": {"name": "risk"}, "transform": [{"filter": "datum.p == 'd' && datum.g == 'IMA'"}],
    "mark": {"type": "text", "fontSize": 4.5, "baseline": "middle"},
    "encoding": {
     "x": {"field": "t", "type": "quantitative", "scale": {"domain": [-4.5, 94.5], "nice": false, "zero": false}, "axis": {"title": "Time from surgery (months)", "values": [0,5,10,15,20,25,30,35,40,45,50,55,60,65,70,75,80,85,90], "labelExpr": "datum.value % 10 == 0 ? datum.label : ''", "tickOpacity": {"condition": {"test": "datum.value % 10 == 0", "value": 1}, "value": 0}}},
     "y": {"datum": 0.075, "type": "quantitative", "scale": {"domain": [-0.0108, 1.0127], "nice": false, "zero": false}, "axis": {"title": "Proportion of Overall survival", "values": [0,0.125,0.25,0.375,0.5,0.625,0.75,0.875,1], "labelExpr": "(datum.value * 4) % 1 == 0 ? format(datum.value, '.2f') : ''", "tickOpacity": {"condition": {"test": "(datum.value * 4) % 1 == 0", "value": 1}, "value": 0}}},
     "text": {"field": "n", "type": "quantitative"},
     "fill": {"field": "g", "type": "nominal", "scale": {"domain": ["IASLC Grade 3", "IMA"], "range": ["#00BFC4", "#F8766D"]}, "legend": null}
    }},
   {"data": {"name": "risk"}, "transform": [{"filter": "datum.p == 'd' && datum.g != 'IMA'"}],
    "mark": {"type": "text", "fontSize": 4.5, "baseline": "middle"},
    "encoding": {
     "x": {"field": "t", "type": "quantitative", "scale": {"domain": [-4.5, 94.5], "nice": false, "zero": false}, "axis": {"title": "Time from surgery (months)", "values": [0,5,10,15,20,25,30,35,40,45,50,55,60,65,70,75,80,85,90], "labelExpr": "datum.value % 10 == 0 ? datum.label : ''", "tickOpacity": {"condition": {"test": "datum.value % 10 == 0", "value": 1}, "value": 0}}},
     "y": {"datum": 0.025, "type": "quantitative", "scale": {"domain": [-0.0108, 1.0127], "nice": false, "zero": false}, "axis": {"title": "Proportion of Overall survival", "values": [0,0.125,0.25,0.375,0.5,0.625,0.75,0.875,1], "labelExpr": "(datum.value * 4) % 1 == 0 ? format(datum.value, '.2f') : ''", "tickOpacity": {"condition": {"test": "(datum.value * 4) % 1 == 0", "value": 1}, "value": 0}}},
     "text": {"field": "n", "type": "quantitative"},
     "fill": {"field": "g", "type": "nominal", "scale": {"domain": ["IASLC Grade 3", "IMA"], "range": ["#00BFC4", "#F8766D"]}, "legend": null}
    }},
   {"data": {"name": "pv"}, "transform": [{"filter": "datum.p == 'd'"}],
    "mark": {"type": "text", "fontSize": 8.5, "fontWeight": "bold", "font": "Noto Sans", "align": "left", "baseline": "middle", "color": "#111111"},
    "encoding": {
     "x": {"datum": -1, "type": "quantitative", "scale": {"domain": [-4.5, 94.5], "nice": false, "zero": false}, "axis": {"title": "Time from surgery (months)", "values": [0,5,10,15,20,25,30,35,40,45,50,55,60,65,70,75,80,85,90], "labelExpr": "datum.value % 10 == 0 ? datum.label : ''", "tickOpacity": {"condition": {"test": "datum.value % 10 == 0", "value": 1}, "value": 0}}},
     "y": {"datum": 0.276, "type": "quantitative", "scale": {"domain": [-0.0108, 1.0127], "nice": false, "zero": false}, "axis": {"title": "Proportion of Overall survival", "values": [0,0.125,0.25,0.375,0.5,0.625,0.75,0.875,1], "labelExpr": "(datum.value * 4) % 1 == 0 ? format(datum.value, '.2f') : ''", "tickOpacity": {"condition": {"test": "(datum.value * 4) % 1 == 0", "value": 1}, "value": 0}}},
     "text": {"field": "label"}}}
  ]
 }
]
}
